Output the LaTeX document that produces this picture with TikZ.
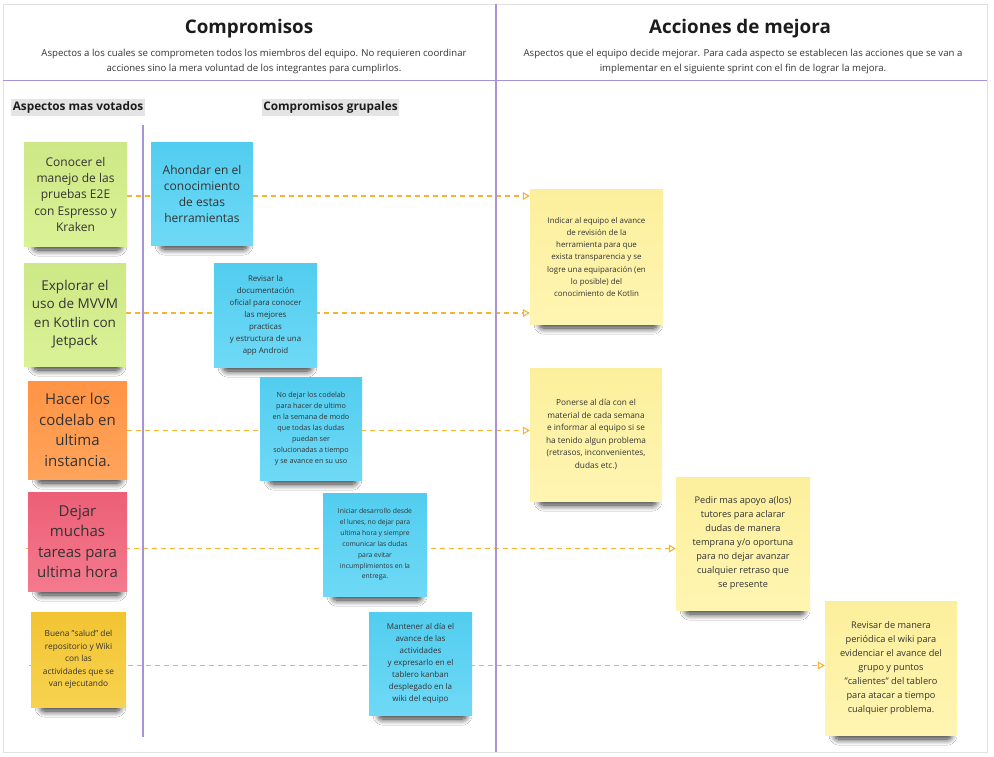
\documentclass[tikz,border=0pt]{standalone}
\usepackage{fontspec}
\setmainfont{Open Sans}
\usetikzlibrary{arrows.meta,shadows.blur}
\pgfdeclarelayer{background}
\pgfsetlayers{background,main}

\definecolor{txt}{HTML}{333333}
\definecolor{ttl}{HTML}{1C1C1C}
\definecolor{framegray}{HTML}{E2E2E2}
\definecolor{lilac}{HTML}{A893DA}
\definecolor{tagbg}{HTML}{E4E4E4}
\definecolor{linkorange}{HTML}{F7B52E}
\definecolor{greenA}{HTML}{CDE886}\definecolor{greenB}{HTML}{DAF296}
\definecolor{blueA}{HTML}{52CDEF}\definecolor{blueB}{HTML}{6ED9F6}
\definecolor{orangeA}{HTML}{FF9444}\definecolor{orangeB}{HTML}{FFA45C}
\definecolor{pinkA}{HTML}{EC5F77}\definecolor{pinkB}{HTML}{F47A8D}
\definecolor{goldA}{HTML}{F2C432}\definecolor{goldB}{HTML}{F8D24F}
\definecolor{paleA}{HTML}{FCEF9C}\definecolor{paleB}{HTML}{FFF5B2}

\newcommand{\fs}[2]{\fontsize{#1}{#2}\selectfont}
% soft shadow strip under the lower edge of a note
\newcommand{\noteshadow}[1]{%
  \path[blur shadow={shadow xshift=0pt, shadow yshift=-4pt, shadow blur radius=6pt,
      shadow blur steps=12, shadow opacity=80}, rounded corners=4pt]
    ([xshift=10pt, yshift=8pt]#1.south west) rectangle ([xshift=-6pt]#1.south east);}

\tikzset{
  sticky/.style={rectangle, inner sep=0pt, align=center, text=txt},
  greennote/.style={sticky, top color=greenA, bottom color=greenB},
  bluenote/.style={sticky, top color=blueA, bottom color=blueB},
  orangenote/.style={sticky, top color=orangeA, bottom color=orangeB},
  pinknote/.style={sticky, top color=pinkA, bottom color=pinkB},
  goldnote/.style={sticky, top color=goldA, bottom color=goldB},
  palenote/.style={sticky, top color=paleA, bottom color=paleB},
  heading/.style={font=\bfseries\fs{18.8}{23}, text=ttl, inner sep=0pt},
  subhead/.style={font=\fs{9.6}{15}, text=txt, align=center, inner sep=0pt},
  tag/.style={fill=tagbg, font=\bfseries\fs{11.8}{13}, text=ttl, inner xsep=1.5pt, inner ysep=3pt},
  divider/.style={lilac, line width=1.3pt},
  conn/.style={draw=linkorange, line width=1.2pt, dash pattern=on 5pt off 4pt,
    -{Triangle[open, length=7pt, width=8pt, line width=1.1pt]}},
}

\begin{document}
\begin{tikzpicture}[x=1pt, y=-1pt]
\useasboundingbox (0,0) rectangle (994,757);

% board frame and dividers
\draw[framegray, line width=0.8pt] (3,4) rectangle (987,752);
\draw[divider] (496,4) -- (496,752);
\draw[divider] (3,80.5) -- (987,80.5);
\draw[divider] (143,125) -- (143,737);

% headers
\node[heading] (h1) at (249,29) {Compromisos};
\node[subhead] (s1) at (254,61.5) {Aspectos a los cuales se comprometen todos los miembros del equipo. No requieren coordinar\\acciones sino la mera voluntad de los integrantes para cumplirlos.};
\node[heading] (h2) at (740,29) {Acciones de mejora};
\node[subhead] (s2) at (743,61.5) {Aspectos que el equipo decide mejorar. Para cada aspecto se establecen las acciones que se van a\\implementar en el siguiente sprint con el fin de lograr la mejora.};

\node[tag] (t1) at (78,107.5) {Aspectos mas votados};
\node[tag] (t2) at (330.5,107.5) {Compromisos grupales};

% most voted aspects
\node[greennote, minimum width=103pt, minimum height=103pt, font=\fs{12}{16.5}] (g1) at (75.5,194.5)
  {Conocer el\\manejo de las\\pruebas E2E\\con Espresso y\\Kraken};
\node[greennote, minimum width=102pt, minimum height=103pt, font=\fs{13.5}{18.4}] (g2) at (75,314.5)
  {Explorar el\\uso de MVVM\\en Kotlin con\\Jetpack};
\node[orangenote, minimum width=99pt, minimum height=98pt, font=\fs{15}{20.5}] (o3) at (77.5,430)
  {Hacer los\\codelab en\\ultima\\instancia.};
\node[pinknote, minimum width=99pt, minimum height=99pt, font=\fs{15}{20.5}] (p4) at (77.5,541.5)
  {Dejar\\muchas\\tareas para\\ultima hora};
\node[goldnote, minimum width=95pt, minimum height=95pt, font=\fs{8.3}{12.6}] (y5) at (78.5,659.5)
  {Buena "salud" del\\repositorio y Wiki\\con las\\actividades que se\\van ejecutando};

% group commitments
\node[bluenote, minimum width=102pt, minimum height=102pt, font=\fs{12}{16.3}] (b1) at (202,194)
  {Ahondar en el\\conocimiento\\de estas\\herramientas};
\node[bluenote, minimum width=103pt, minimum height=104pt, font=\fs{7.9}{12}] (b2) at (265.5,315)
  {Revisar la\\documentación\\oficial para conocer\\las mejores\\practicas\\y estructura de una\\app Android};
\node[bluenote, minimum width=102pt, minimum height=103pt, font=\fs{7.2}{11.1}] (b3) at (311,428.5)
  {No dejar los codelab\\para hacer de ultimo\\en la semana de modo\\que todas las dudas\\puedan ser\\solucionadas a tiempo\\y se avance en su uso};
\node[bluenote, minimum width=104pt, minimum height=103pt, font=\fs{6.8}{10.9}] (b4) at (375,544.5)
  {Iniciar desarrollo desde\\el lunes, no dejar para\\ultima hora y siempre\\comunicar las dudas\\para evitar\\incumplimientos en la\\entrega.};
\node[bluenote, minimum width=103pt, minimum height=103pt, font=\fs{8}{12}] (b5) at (420.5,663.5)
  {Mantener al día el\\avance de las\\actividades\\y expresarlo en el\\tablero kanban\\desplegado en la\\wiki del equipo};

% improvement actions
\node[palenote, minimum width=133pt, minimum height=134pt, font=\fs{7.9}{12.3}] (a1) at (596.5,257)
  {Indicar al equipo el avance\\de revisión de la\\herramienta para que\\exista transparencia y se\\logre una equiparación (en\\lo posible) del\\conocimiento de Kotlin};
\node[palenote, minimum width=132pt, minimum height=133pt, font=\fs{8.3}{12.5}] (a2) at (596,434.5)
  {Ponerse al día con el\\material de cada semana\\e informar al equipo si se\\ha tenido algun problema\\(retrasos, inconvenientes,\\dudas etc.)};
\node[palenote, minimum width=134pt, minimum height=133pt, font=\fs{9.2}{14}] (a3) at (743,543.5)
  {Pedir mas apoyo a(los)\\tutores para aclarar\\dudas de manera\\temprana y/o oportuna\\para no dejar avanzar\\cualquier retraso que\\se presente};
\node[palenote, minimum width=132pt, minimum height=134pt, font=\fs{9.2}{14.1}] (a4) at (891,668)
  {Revisar de manera\\periódica el wiki para\\evidenciar el avance del\\grupo y puntos\\"calientes" del tablero\\para atacar a tiempo\\cualquier problema.};

% loose tails of the two lower links
\coordinate (c4) at (26,548.5);
\coordinate (c5) at (29,665.5);

\begin{pgfonlayer}{background}
\fill[white] (0,0) rectangle (994,757);
% shadows under every note
\foreach \n in {g1,g2,o3,p4,y5,b1,b2,b3,b4,b5,a1,a2,a3,a4} {\noteshadow{\n}}
% dashed links, kept behind the notes
\draw[conn] ([yshift=-1.5pt]g1.east) -- ([yshift=-1.5pt]g1.east -| a1.west);
\draw[conn] ([yshift=1.5pt]g2.east) -- ([yshift=1.5pt]g2.east -| a1.west);
\draw[conn] ([yshift=-0.5pt]o3.east) -- ([yshift=-0.5pt]o3.east -| a2.west);
\draw[conn] (c4) -- (c4 -| a3.west);
\draw[conn] (c5) -- (c5 -| a4.west);
\end{pgfonlayer}
\end{tikzpicture}
\end{document}
